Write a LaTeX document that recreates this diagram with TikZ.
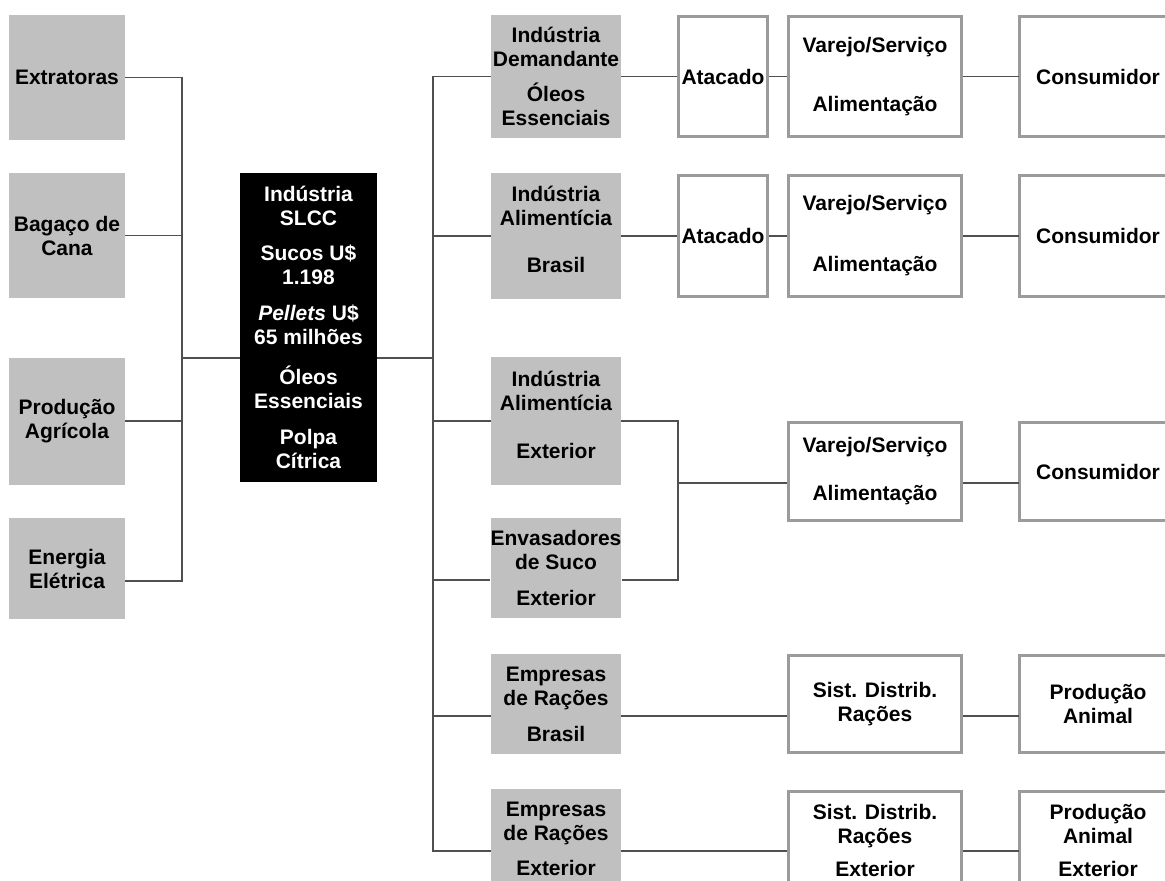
\documentclass[tikz,border=0pt]{standalone}
\usepackage{fontspec}
\setmainfont{Liberation Sans}
\usepackage{xcolor}
\usepackage{tikz}

\definecolor{cellgray}{RGB}{192,192,192}
\definecolor{framegray}{RGB}{155,155,155}
\definecolor{linkgray}{RGB}{80,80,80}

\begin{document}
\begin{tikzpicture}[x=1pt, y=-1pt,
			box/.style={rectangle, inner sep=0pt, align=center, font=\bfseries\fontsize{21}{24}\selectfont},
			cell/.style={box, fill=cellgray, minimum width=130pt},
			source/.style={box, fill=cellgray, minimum width=116pt},
			core/.style={box, fill=black, text=white, minimum width=137pt, minimum height=309pt},
			frame/.style={draw=framegray, line width=3pt},
			chain/.style={box, frame, fill=white},
			atac/.style={chain, minimum width=89pt},
			retail/.style={chain, minimum width=173pt},
			final/.style={box, fill=white, minimum width=157pt},
			link/.style={draw=linkgray, line width=1.5pt}
		]
		\useasboundingbox (0,0) rectangle (1165,881);
		\clip (0,0) rectangle (1165,881);

		% Suppliers
		\node[source, minimum height=125pt] (extr) at (67,77.5) {Extratoras};
		\node[source, minimum height=125pt] (bagaco) at (67,235.5) {Bagaço de\\Cana};
		\node[source, minimum height=127pt] (agric) at (67,421) {Produção\\Agrícola};
		\node[source, minimum height=101pt] (energia) at (67,568.5) {Energia\\Elétrica};

		% Industry
		\node[core] (slcc) at (308.5,327.5) {Indústria\\SLCC\\[11pt]Sucos U\$\\1.198\\[12pt]\textit{Pellets} U\$\\65 milhões\\[16pt]Óleos\\Essenciais\\[12pt]Polpa\\Cítrica};

		% Buyers
		\node[cell, minimum height=123pt] (demand) at (556,76.5) {Indústria\\Demandante\\[11pt]Óleos\\Essenciais};
		\node[cell, minimum height=126pt, text depth=13pt] (alimbr) at (556,236) {Indústria\\Alimentícia\\[23pt]Brasil};
		\node[cell, minimum height=128pt, text depth=13pt] (alimex) at (556,421) {Indústria\\Alimentícia\\[24pt]Exterior};
		\node[cell, minimum height=100pt] (envas) at (556,568) {Envasadores\\de Suco\\[12pt]Exterior};
		\node[cell, minimum height=100pt] (racbr) at (556,704) {Empresas\\de Rações\\[12pt]Brasil};
		\node[cell, minimum height=100pt] (racex) at (556,839) {Empresas\\de Rações\\[11pt]Exterior};

		% Distribution
		\node[atac, minimum height=120pt] (atac1) at (723,76.5) {Atacado};
		\node[atac, minimum height=121pt] (atac2) at (723,236) {Atacado};
		\node[retail, minimum height=120pt] (var1) at (875,76.5) {Varejo/Serviço\\[35pt]Alimentação};
		\node[retail, minimum height=121pt] (var2) at (875,236) {Varejo/Serviço\\[37pt]Alimentação};
		\node[retail, minimum height=98pt] (var3) at (875,471.5) {Varejo/Serviço\\[24pt]Alimentação};
		\node[retail, minimum height=97pt] (sist1) at (875,704) {Sist. Distrib.\\Rações};
		\node[retail, minimum height=97pt] (sist2) at (875,840) {Sist. Distrib.\\Rações\\[9pt]Exterior};

		% End users (their right side runs off the page)
		\node[final, minimum height=120pt] (cons1) at (1098,76.5) {Consumidor};
		\node[final, minimum height=121pt] (cons2) at (1098,236) {Consumidor};
		\node[final, minimum height=98pt] (cons3) at (1098,471.5) {Consumidor};
		\node[final, minimum height=97pt] (anim1) at (1098,704) {Produção\\Animal};
		\node[final, minimum height=97pt] (anim2) at (1098,840) {Produção\\Animal\\[9pt]Exterior};
		\foreach \n in {cons1,cons2,cons3,anim1,anim2}
			\draw[frame] ([xshift=80pt]\n.north east) -| (\n.south west) -- ([xshift=80pt]\n.south east);

		% Trunks
		\coordinate (ltrunk) at (182,358);
		\coordinate (rtrunk) at (433,358);
		\coordinate (merge) at (678,483);

		% Links into the industry
		\draw[link] (extr.east) -| (ltrunk);
		\draw[link] (bagaco.east) -| (ltrunk);
		\draw[link] (agric.east) -| (ltrunk);
		\draw[link] ([yshift=-12.5pt]energia.east) -| (ltrunk);
		\draw[link] (ltrunk) -- (ltrunk -| slcc.west);

		% Links out of the industry
		\draw[link] (slcc.east |- rtrunk) -- (rtrunk);
		\draw[link] (rtrunk) |- (demand.west);
		\draw[link] (rtrunk) |- (alimbr.west);
		\draw[link] (rtrunk) |- (alimex.west);
		\draw[link] (rtrunk) |- ([yshift=-12pt]envas.west);
		\draw[link] (rtrunk) |- ([yshift=-12pt]racbr.west);
		\draw[link] (rtrunk) |- ([yshift=-12pt]racex.west);

		% Chains
		\draw[link] (demand.east) -- (atac1.west);
		\draw[link] (atac1.east) -- (var1.west);
		\draw[link] (var1.east) -- (cons1.west);
		\draw[link] (alimbr.east) -- (atac2.west);
		\draw[link] (atac2.east) -- (var2.west);
		\draw[link] (var2.east) -- (cons2.west);
		\draw[link] (alimex.east) -| (merge);
		\draw[link] ([yshift=-12pt]envas.east) -| (merge);
		\draw[link] (merge) -- (merge -| var3.west);
		\draw[link] ([yshift=-11.5pt]var3.east) -- ([yshift=-11.5pt]cons3.west);
		\draw[link] ([yshift=-12pt]racbr.east) -- ([yshift=-12pt]sist1.west);
		\draw[link] ([yshift=-12pt]sist1.east) -- ([yshift=-12pt]anim1.west);
		\draw[link] ([yshift=-12pt]racex.east) -- ([yshift=-11pt]sist2.west);
		\draw[link] ([yshift=-11pt]sist2.east) -- ([yshift=-11pt]anim2.west);

	\end{tikzpicture}
\end{document}
